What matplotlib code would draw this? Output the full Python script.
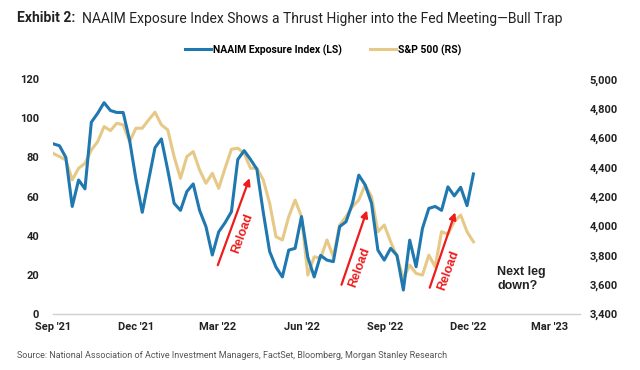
import matplotlib.pyplot as plt
import matplotlib.dates as mdates
import matplotlib.ticker as mticker
import pandas as pd

plt.rcParams["font.family"] = ["Roboto", "DejaVu Sans"]

# weekly readings, Sep '21 to Dec '22
dates = pd.date_range("2021-09-01", periods=67, freq="7D")

naaim = [87, 86, 80, 55, 68.5, 64, 98, 102.6, 108, 104,
         103, 103, 89, 69, 52, 68.5, 85, 89.5, 73.6, 56.6,
         53, 62.6, 66.5, 53, 44.7, 30.2, 42, 46.7, 52.3, 79,
         83.5, 79, 74, 52, 32, 24, 19, 32.7, 33.6, 49.8,
         29, 19, 30, 27.6, 26.8, 44.7, 47.2, 56.6, 71, 66,
         56.6, 32.7, 27.6, 33.6, 30, 12.3, 37.8, 24.2, 43.8, 54,
         55, 53, 65, 60.4, 64.8, 55.4, 71.6]

spx = [4495, 4473, 4450, 4314, 4393, 4427, 4518, 4575, 4677, 4650,
       4700, 4689, 4575, 4666, 4666, 4723, 4775, 4689, 4655, 4473,
       4325, 4473, 4507, 4382, 4291, 4359, 4257, 4393, 4523, 4530,
       4495, 4393, 4393, 4314, 4155, 3927, 3905, 4064, 4177, 4064,
       3666, 3791, 3780, 3905, 3791, 4007, 4064, 4132, 4177, 4280,
       4200, 3961, 4007, 3893, 3791, 3643, 3734, 3677, 3666, 3802,
       3723, 3961, 3945, 4030, 4075, 3961, 3893]

tick_dates = pd.to_datetime(["2021-09-01", "2021-12-01", "2022-03-01", "2022-06-01",
                             "2022-09-01", "2022-12-01", "2023-03-01"])

# reload arrows: (start date, start value, end date, end value) on left axis
arrows = [("2022-03-01", 25, "2022-04-05", 69.5),
          ("2022-07-15", 15, "2022-08-12", 53),
          ("2022-10-20", 13.5, "2022-11-17", 52)]
reload_labels = [("2022-03-28", 41), ("2022-08-04", 24), ("2022-11-09", 22.5)]

blue = "#1f78b0"
tan = "#e6c987"
red = "#ee1c1c"

fig = plt.figure(figsize=(6.4, 3.7), dpi=100)
ax = fig.add_axes([0.083, 0.151, 0.823, 0.635])
ax2 = ax.twinx()

l1, = ax.plot(dates, naaim, color=blue, linewidth=2.2, zorder=3,
              label="NAAIM Exposure Index (LS)")
l2, = ax2.plot(dates, spx, color=tan, linewidth=2.2, zorder=2,
               label="S&P 500 (RS)")
ax.set_zorder(ax2.get_zorder() + 1)
ax.patch.set_visible(False)

ax.set_xlim(pd.Timestamp("2021-09-01"), pd.Timestamp("2023-04-03"))
ax.set_ylim(0, 120)
ax2.set_ylim(3400, 5000)
ax.set_yticks(range(0, 121, 20))
ax2.set_yticks(range(3400, 5001, 200))
ax2.yaxis.set_major_formatter(mticker.FuncFormatter(lambda v, p: f"{int(v):,}"))
ax.set_xticks(tick_dates)
ax.xaxis.set_major_formatter(mdates.DateFormatter("%b '%y"))

for a in (ax, ax2):
    for s in a.spines.values():
        s.set_visible(False)
    a.tick_params(length=0, labelsize=8, labelcolor="#222222")
    for lab in a.get_xticklabels() + a.get_yticklabels():
        lab.set_fontweight("bold")
ax.spines["bottom"].set_visible(True)
ax.spines["bottom"].set_color("#d0d0d0")
ax.spines["bottom"].set_linewidth(1)
ax.tick_params(axis="y", pad=10)
ax.tick_params(axis="x", pad=6)
ax2.tick_params(axis="y", pad=7)

for x0, y0, x1, y1 in arrows:
    ax.annotate("", xy=(pd.Timestamp(x1), y1), xytext=(pd.Timestamp(x0), y0),
                arrowprops=dict(arrowstyle="-|>", color=red, lw=1.6,
                                mutation_scale=10, shrinkA=0, shrinkB=0),
                zorder=4)
for x, y in reload_labels:
    ax.text(pd.Timestamp(x), y, "Reload", color=red, fontsize=9, fontweight="bold",
            rotation=70, ha="center", va="center", zorder=4,
            family=["Liberation Sans", "DejaVu Sans"])

ax.text(pd.Timestamp("2023-01-02"), 18, "Next leg\ndown?", fontsize=9,
        fontweight="bold", ha="left", va="center", linespacing=1.3,
        family=["Liberation Sans", "DejaVu Sans"], color="#222222")

fig.legend(handles=[l1, l2], loc="center", bbox_to_anchor=(0.505, 0.865), ncol=2,
           frameon=False, handlelength=2.5, handletextpad=0.25, columnspacing=2.6,
           prop={"weight": "bold", "size": 7.5})

t1 = fig.text(0.027, 0.95, "Exhibit 2:", fontsize=10, fontweight="bold",
              ha="left", va="center", color="#222222")
fig.canvas.draw()
bb = t1.get_window_extent().transformed(fig.transFigure.inverted())
fig.text(bb.x1 + 0.01, 0.95,
         "NAAIM Exposure Index Shows a Thrust Higher into the Fed Meeting\u2014Bull Trap",
         fontsize=10, ha="left", va="center", color="#222222")

fig.text(0.027, 0.04,
         "Source: National Association of Active Investment Managers, FactSet, "
         "Bloomberg, Morgan Stanley Research",
         fontsize=6.5, color="#555555", ha="left", va="center")

fig.savefig("out.png", dpi=100)
